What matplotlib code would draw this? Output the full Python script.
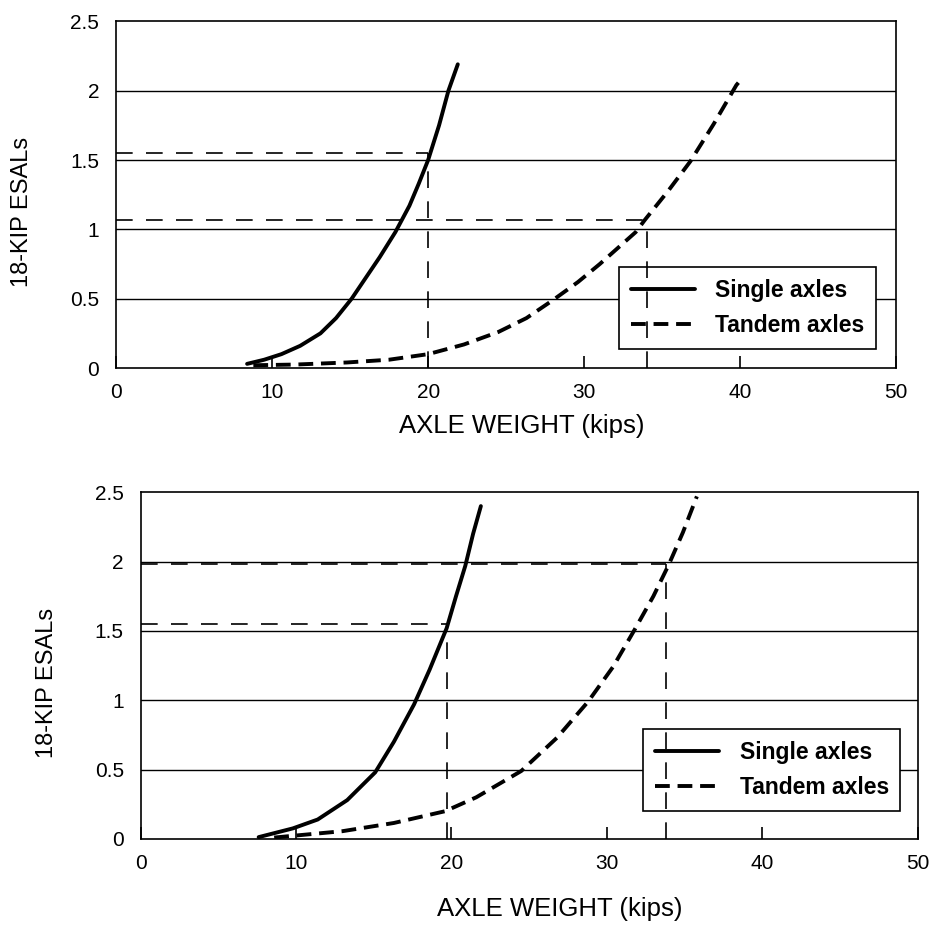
import numpy as np
import matplotlib
matplotlib.use('Agg')
import matplotlib.pyplot as plt

plt.rcParams['font.family'] = ['Liberation Sans', 'DejaVu Sans']

# ---- data (axle weight in kips, 18-kip ESALs)
# top panel
top_single_x = [8.4, 9.5, 10.6, 11.8, 13.1, 14.1, 15.1, 16.0, 16.9, 17.9, 18.8, 19.4, 20.0, 20.7, 21.3, 21.9]
top_single_y = [0.03, 0.06, 0.10, 0.16, 0.25, 0.36, 0.50, 0.65, 0.80, 0.98, 1.17, 1.33, 1.50, 1.75, 2.00, 2.19]
top_tandem_x = [8.8, 11.5, 14.8, 17.5, 20.0, 22.3, 24.5, 26.3, 28.0, 29.6, 31.0, 32.3, 33.3, 33.9, 35.4, 36.8, 38.3, 39.75, 40.2]
top_tandem_y = [0.02, 0.025, 0.04, 0.06, 0.10, 0.17, 0.26, 0.36, 0.49, 0.62, 0.75, 0.88, 0.98, 1.07, 1.28, 1.49, 1.76, 2.04, 2.10]
top_ref_x = [20.0, 34.0]     # weights picked off
top_ref_y = [1.55, 1.07]     # ESALs read across

# bottom panel
bot_single_x = [7.6, 9.8, 11.4, 13.3, 15.1, 16.3, 17.6, 18.6, 19.7, 20.3, 20.9, 21.4, 21.9]
bot_single_y = [0.013, 0.076, 0.14, 0.28, 0.48, 0.70, 0.97, 1.22, 1.52, 1.75, 1.97, 2.20, 2.40]
bot_tandem_x = [8.6, 13.0, 16.3, 19.6, 21.6, 24.5, 26.8, 28.8, 30.4, 31.8, 33.0, 34.0, 34.9, 35.8]
bot_tandem_y = [0.01, 0.056, 0.115, 0.20, 0.30, 0.49, 0.73, 0.99, 1.24, 1.51, 1.75, 1.98, 2.21, 2.47]
bot_ref_x = [19.7, 33.8]
bot_ref_y = [1.55, 1.98]

xticks = [0, 10, 20, 30, 40, 50]
yticks = [0, 0.5, 1, 1.5, 2, 2.5]
ytick_labels = ['0', '0.5', '1', '1.5', '2', '2.5']
labels = ['Single axles', 'Tandem axles']


def esal_panel(ax, sx, sy, tx, ty, refx, refy, leg_anchor):
    # horizontal grid lines
    for yy in yticks[1:-1]:
        ax.axhline(yy, color='black', lw=1.0, zorder=1)
    # curves
    ax.plot(sx, sy, color='black', lw=2.8, solid_capstyle='round', label=labels[0], zorder=3)
    ax.plot(tx, ty, color='black', lw=2.8, dashes=(3.8, 2.0), label=labels[1], zorder=3)
    # dashed read-off lines
    for rx, ry in zip(refx, refy):
        ax.plot([0, rx], [ry, ry], color='black', lw=1.2, dashes=(10, 8), zorder=2)
        ax.plot([rx, rx], [0, ry], color='black', lw=1.2, dashes=(10, 8), zorder=6)

    ax.set_xlim(0, 50)
    ax.set_ylim(0, 2.5)
    ax.set_xticks(xticks)
    ax.set_xticklabels([str(v) for v in xticks])
    ax.set_yticks(yticks)
    ax.set_yticklabels(ytick_labels)
    ax.tick_params(axis='x', direction='in', length=9, width=1.2, pad=11, labelsize=15)
    ax.tick_params(axis='y', length=0, pad=12, labelsize=15)
    for sp in ax.spines.values():
        sp.set_linewidth(1.2)

    ax.set_xlabel('AXLE WEIGHT (kips)', fontsize=18.5)
    ax.set_ylabel('18-KIP ESALs', fontsize=17)
    ax.yaxis.set_label_coords(-0.106, 0.45)

    leg = ax.legend(loc='lower right', bbox_to_anchor=leg_anchor, borderaxespad=0,
                    fancybox=False, edgecolor='black', framealpha=1,
                    prop={'weight': 'bold', 'size': 16.5}, handlelength=2.8,
                    handletextpad=0.9, borderpad=0.5, labelspacing=0.55)
    leg.get_frame().set_linewidth(1.2)
    leg.set_zorder(5)
    return leg


fig = plt.figure(figsize=(9.47, 9.27), dpi=100)
ax1 = fig.add_axes([0.1225, 0.603, 0.824, 0.374])
ax2 = fig.add_axes([0.1484, 0.095, 0.8205, 0.374])

esal_panel(ax1, top_single_x, top_single_y, top_tandem_x, top_tandem_y,
           top_ref_x, top_ref_y, (0.974, 0.056))
ax1.xaxis.set_label_coords(0.52, -0.132)

esal_panel(ax2, bot_single_x, bot_single_y, bot_tandem_x, bot_tandem_y,
           bot_ref_x, bot_ref_y, (0.978, 0.081))
ax2.xaxis.set_label_coords(0.54, -0.168)

fig.savefig('out.png', dpi=100)
